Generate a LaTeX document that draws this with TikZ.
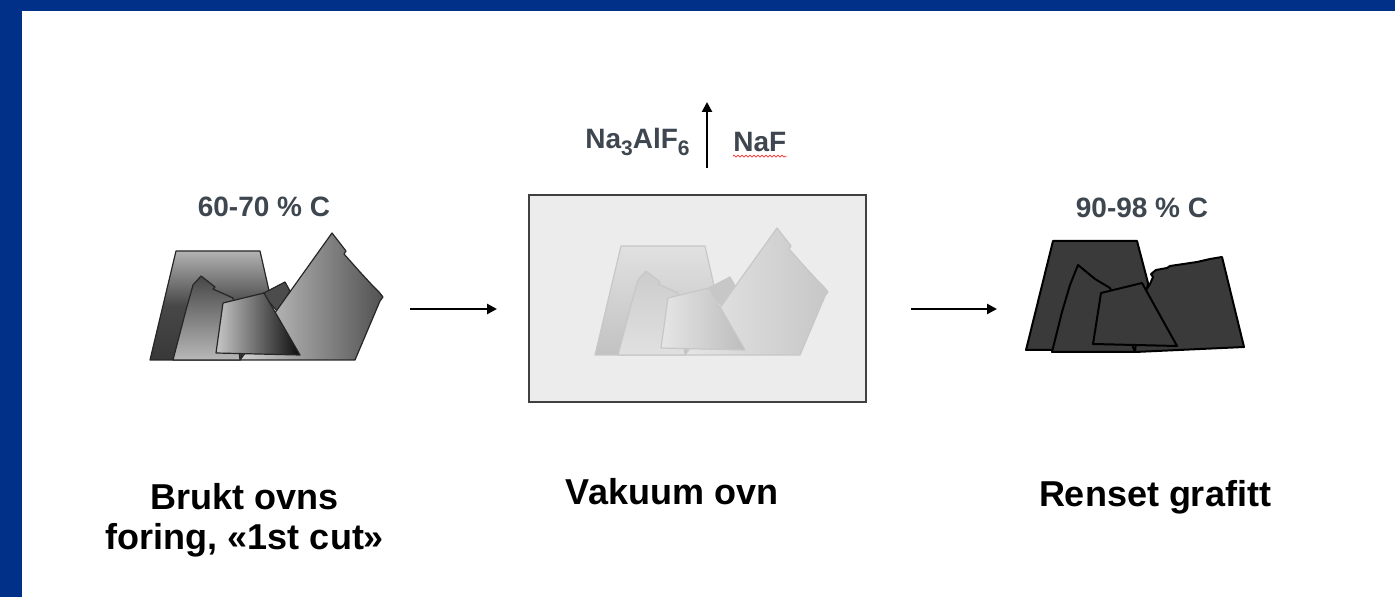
\documentclass[tikz,border=0pt]{standalone}
\usepackage{fontspec}
\setmainfont{Liberation Sans}
\usetikzlibrary{arrows.meta,decorations.pathmorphing}
\definecolor{frameblue}{RGB}{0,48,135}
\definecolor{labelgray}{RGB}{62,70,80}
\definecolor{rockdark}{RGB}{58,58,58}
\definecolor{ovenfill}{RGB}{236,236,236}

% chemical index, set low and fairly large
\newcommand\chemidx[1]{\raisebox{-0.45ex}{\fontsize{10.5pt}{11pt}\selectfont #1}}

% one heap of lining pieces, drawn with the styles in force
\newcommand\liningheap{%
  \path[pieceA] (176,251) -- (260,251) -- (270,295) -- (240,360) -- (150,360) -- cycle;
  \path[pieceC] (262,294) -- (285,282) -- (290,291) -- (278,312) -- cycle;
  \path[pieceD] (332,233) -- (346,251) -- (344,254) -- (360,272) -- (372,285)
     -- (379,292) -- (383,297) -- (380,301) -- (355,360) -- (240,360) -- (277,310) -- cycle;
  \path[pieceB] (201,276) -- (215,287) -- (213,289) -- (233,298) -- (240,360)
     -- (173,360) -- (186,310) -- (193,285) -- cycle;
  \path[pieceE] (223,303) -- (264,293) -- (300,355) -- (216,353) -- cycle;
}

\begin{document}
\begin{tikzpicture}[x=0.5pt,y=-0.5pt,
  pctlabel/.style={font=\bfseries\fontsize{14pt}{16pt}\selectfont, text=labelgray},
  steplabel/.style={font=\bfseries\fontsize{18pt}{20pt}\selectfont, align=center, text=black},
  flowarrow/.style={line width=1.4pt, -{Triangle[length=5pt,width=5pt]}},
  usedpiece/.style={draw=black!85, line width=0.6pt, line join=round},
  palepiece/.style={draw=black!22, line width=0.6pt, line join=round},
  cleanpiece/.style={fill=rockdark, draw=black, line width=1pt, line join=round}]

\useasboundingbox (0,0) rectangle (1395,597);
\fill[white] (0,0) rectangle (1395,597);
% frame bands
\fill[frameblue] (0,0) rectangle (1395,11);
\fill[frameblue] (0,0) rectangle (22,597);

% used lining, graded pieces
\begin{scope}[
  pieceA/.style={usedpiece, top color=black!30, bottom color=black!78, middle color=black!72},
  pieceB/.style={usedpiece, top color=black!72, bottom color=black!28},
  pieceC/.style={usedpiece, fill=black!70},
  pieceD/.style={usedpiece, left color=black!18, right color=black!68},
  pieceE/.style={usedpiece, left color=black!22, right color=black!95}]
  \liningheap
\end{scope}

% vacuum oven
\node[draw=black!75, fill=ovenfill, line width=0.8pt, minimum width=168.5pt,
      minimum height=103.5pt, inner sep=0pt] (oven) at (697.5,298.5) {};
\begin{scope}[shift={(445,-5)},
  pieceA/.style={palepiece, top color=black!12, bottom color=black!24},
  pieceB/.style={palepiece, top color=black!20, bottom color=black!12},
  pieceC/.style={palepiece, fill=black!22},
  pieceD/.style={palepiece, left color=black!10, right color=black!22},
  pieceE/.style={palepiece, left color=black!10, right color=black!26}]
  \liningheap
\end{scope}

% cleaned graphite
\path[cleanpiece] (1053,241) -- (1137,241) -- (1148,283) -- (1140,340) -- (1135,350) -- (1026,350) -- cycle;
\path[cleanpiece] (1150,284) -- (1153,277) -- (1151,274) -- (1156,270) -- (1167,268)
   -- (1170,266) -- (1197,262) -- (1210,259) -- (1222,257) -- (1244,347)
   -- (1135,352) -- (1140,300) -- cycle;
\path[cleanpiece] (1078,265) -- (1095,279) -- (1110,288) -- (1135,352) -- (1052,352)
   -- (1062,312) -- (1070,285) -- cycle;
\path[cleanpiece] (1101,293) -- (1142,283) -- (1177,346) -- (1093,344) -- cycle;

% carbon contents
\node[pctlabel] (cin) at (264,207) {60-70 \% C};
\node[pctlabel] (cout) at (1142,208) {90-98 \% C};

% flow arrows
\coordinate (a1s) at (410,309);
\coordinate (a1e) at (497,309);
\coordinate (a2s) at (911,309);
\coordinate (a2e) at (997,309);
\draw[flowarrow] (a1s) -- (a1e);
\draw[flowarrow] (a2s) -- (a2e);

% vapour leaving the oven
\coordinate (vs) at (707,168);
\coordinate (ve) at (707,102);
\draw[line width=1.2pt, -{Triangle[length=5pt,width=5pt]}] (vs) -- (ve);
\node[pctlabel, anchor=east, inner sep=0pt] (cryo) at (690,142) {Na\chemidx{3}AlF\chemidx{6}};
\node[pctlabel, anchor=west, inner sep=0pt] (naf) at (733,142) {NaF};
\draw[red!80, line width=0.35pt, decorate,
      decoration={zigzag, segment length=2pt, amplitude=0.5pt}]
  ([yshift=-2pt]naf.south west) -- ([yshift=-2pt]naf.south east);

% step names
\node[steplabel] (s1) at (245,520) {Brukt ovns\\foring, «1st cut»};
\node[steplabel] (s2) at (672,492) {Vakuum ovn};
\node[steplabel] (s3) at (1155,497) {Renset grafitt};
\end{tikzpicture}
\end{document}
